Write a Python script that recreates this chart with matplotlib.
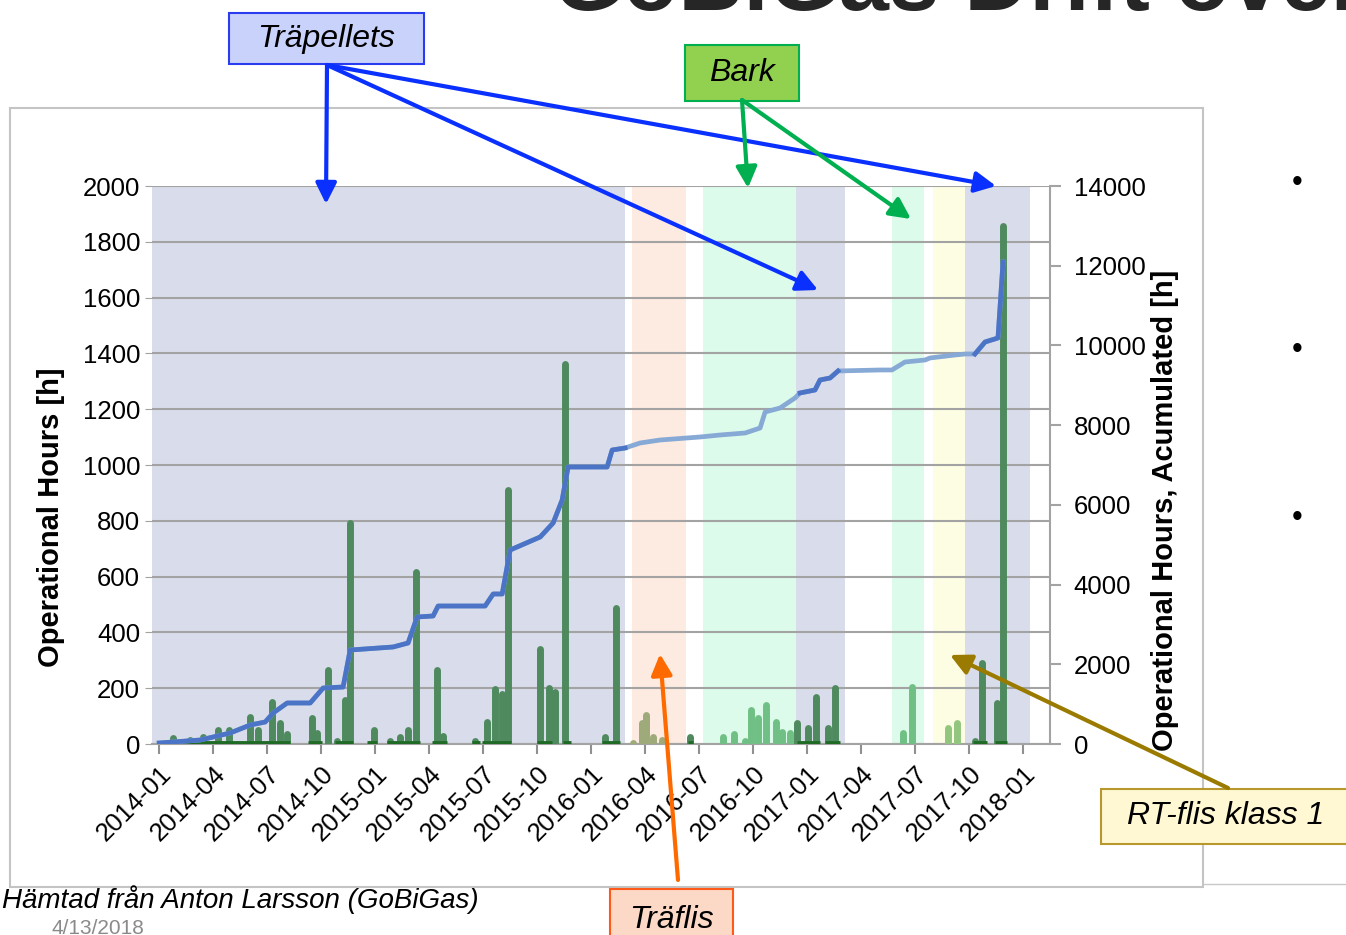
import numpy as np
import matplotlib
matplotlib.use("Agg")
from matplotlib import pyplot as plt
from matplotlib.patches import Rectangle

plt.rcParams['font.family'] = ['Liberation Sans', 'DejaVu Sans']

# months counted from 2014-01
tick_labels = ["2014-01", "2014-04", "2014-07", "2014-10", "2015-01", "2015-04", "2015-07",
               "2015-10", "2016-01", "2016-04", "2016-07", "2016-10", "2017-01", "2017-04",
               "2017-07", "2017-10", "2018-01"]

# fuel periods (start month, end month, fuel)
periods = [(-0.4, 25.9, "pellets"), (26.3, 29.3, "traflis"), (30.2, 35.4, "bark"),
           (35.4, 38.1, "pellets"), (40.7, 42.5, "bark"), (43.0, 44.8, "rt"),
           (44.8, 48.4, "pellets")]

# operational hours per period bar
bar_month = [0.78, 1.72, 2.44, 3.28, 3.89, 5.06, 5.5, 6.28, 6.72, 7.11, 8.5, 8.78, 9.39, 9.89,
             10.33, 10.61, 11.94, 12.83, 13.39, 13.83, 14.28, 15.44, 15.78, 17.56, 18.22, 18.67,
             19.06, 19.39, 21.17, 21.67, 22.0, 22.56, 24.78, 25.39,
             26.33, 26.83, 27.06, 27.44, 27.94,
             29.5,
             31.33, 31.94, 32.56, 32.89, 33.28, 33.72, 34.28, 34.61, 35.06,
             35.44, 36.06, 36.5, 37.17, 37.56,
             41.33, 41.83,
             43.83, 44.33,
             45.33, 45.72, 46.56, 46.89]
bar_hours = [20, 15, 25, 50, 50, 97, 50, 150, 75, 35, 93, 40, 265, 10,
             158, 792, 50, 10, 25, 50, 617, 265, 30, 10, 79, 197,
             180, 910, 340, 200, 187, 1362, 25, 487,
             5, 75, 104, 25, 15,
             25,
             25, 36, 10, 122, 93, 140, 79, 43, 40,
             75, 57, 168, 57, 200,
             40, 204,
             57, 75,
             10, 290, 147, 1856]
bar_fuel = (["pellets"] * 34 + ["traflis"] * 5 + ["pellets"] + ["bark"] * 9 +
            ["pellets"] * 5 + ["bark"] * 2 + ["rt"] * 2 + ["pellets"] * 4)

# running periods shown along the base line
run_start = [0.06, 8.28, 9.78, 11.56, 12.67, 15.17, 17.39, 17.94, 21.0, 22.44, 24.61, 29.39,
             35.44, 37.0, 45.22, 46.44]
run_end = [7.28, 9.06, 10.78, 12.11, 14.5, 16.0, 17.83, 19.56, 21.83, 22.89, 25.61, 29.67,
           36.72, 37.83, 46.0, 47.11]

# accumulated hours
acc_month = [0.0, 2.28, 3.94, 5.06, 5.89, 6.33, 7.11, 8.39, 9.11, 10.22, 10.61, 13.0, 13.83,
             14.33, 15.22, 15.5, 18.11, 18.56, 19.06, 19.5, 21.17, 21.89, 22.39, 22.72, 24.89,
             25.17, 25.89, 26.72, 27.83, 30.06, 31.17, 32.56, 33.39, 33.67, 34.5, 35.33, 35.61,
             36.44, 36.72, 37.28, 37.72, 40.06, 40.72, 41.44, 42.56, 42.83, 44.22, 44.78, 45.33,
             45.89, 46.61, 46.89]
acc_hours = [25, 100, 276, 477, 552, 778, 1029, 1029, 1405, 1430, 2358, 2434, 2534,
             3186, 3212, 3462, 3462, 3764, 3764, 4867, 5194, 5545, 6122, 6950, 6950,
             7376, 7427, 7552, 7627, 7703, 7753, 7803, 7928, 8330, 8430, 8681, 8807,
             8882, 9133, 9183, 9359, 9384, 9384, 9584, 9635, 9685, 9760, 9785, 9785,
             10086, 10187, 12093]

span_colors = {"pellets": "#d9dcea", "traflis": "#fdeae0", "bark": "#dcfbea", "rt": "#fdfde3"}
bar_colors = {"pellets": "#4f8a5f", "traflis": "#9eaa7a", "bark": "#70c085", "rt": "#92c67e"}

W, H = 1346, 935
fig = plt.figure(figsize=(W / 100, H / 100), dpi=100)


def fx(x):
    return x / W


def fy(y):
    return 1 - y / H


# chart frame
fig.add_artist(Rectangle((fx(10), fy(887)), fx(1193), 779 / H, transform=fig.transFigure,
                         fill=False, ec="#c4c4c4", lw=1.5))
fig.add_artist(plt.Line2D([fx(1203), 1], [fy(884), fy(884)], transform=fig.transFigure,
                          color="#c8c8c8", lw=1))

ax = fig.add_axes([fx(152), fy(744), fx(1050 - 152), (744 - 186) / H])
ax2 = ax.twinx()

for s, e, f in periods:
    ax.axvspan(s, e, color=span_colors[f], lw=0, zorder=0)

ax.set_xlim(-0.4, 49.5)
ax.set_ylim(0, 2000)
ax.set_yticks(np.arange(0, 2001, 200))
ax.grid(axis="y", color="#a3a3a3", lw=1.5, zorder=1)
ax.set_axisbelow(True)

cols = [bar_colors[f] for f in bar_fuel]
bars = ax.vlines(bar_month, 0, bar_hours, colors=cols, lw=5, zorder=3)
bars.set_capstyle("round")
ax.hlines([4] * len(run_start), run_start, run_end, colors="#1f6b25", lw=3.5, zorder=4)

ax.set_xticks(np.arange(0, 49, 3))
ax.set_xticklabels(tick_labels, rotation=45, ha="right", rotation_mode="anchor", fontsize=18.5)
ax.tick_params(axis="x", colors="#909090", labelcolor="black", length=7, width=1.5, pad=6)
ax.tick_params(axis="y", colors="#a3a3a3", labelcolor="black", length=5, labelsize=18.5)
for sp in ["top", "left", "right"]:
    ax.spines[sp].set_visible(False)
ax.spines["bottom"].set_color("#a3a3a3")
ax.spines["bottom"].set_linewidth(1.5)
ax.set_ylabel("Operational Hours [h]", fontsize=21, fontweight="bold")
ax.yaxis.set_label_coords(-0.097, 0.407)

# accumulated line, darker during pellets
acc_m = np.array(acc_month)
acc_h = np.array(acc_hours, dtype=float)
pel = np.zeros(len(acc_m), dtype=bool)
for s, e, f in periods:
    if f == "pellets":
        pel |= (acc_m >= s) & (acc_m <= e)
ax2.plot(acc_m, acc_h, color="#86a9d6", lw=3.4, zorder=5)
ax2.plot(acc_m, np.where(pel, acc_h, np.nan), color="#4c74c6", lw=3.4, zorder=6)
ax2.set_ylim(0, 14000)
ax2.set_yticks(np.arange(0, 14001, 2000))
ax2.tick_params(axis="y", colors="#a3a3a3", labelcolor="black", length=8, width=1.5,
                labelsize=18.5, pad=9)
for sp in ["top", "left", "bottom"]:
    ax2.spines[sp].set_visible(False)
ax2.spines["right"].set_color("#a3a3a3")
ax2.spines["right"].set_linewidth(1.5)
ax2.set_ylabel("Operational Hours, Acumulated [h]", fontsize=21, fontweight="bold")
ax2.yaxis.set_label_coords(1.112, 0.418)


def label_box(x0, y0, x1, y1, text, fc, ec):
    fig.add_artist(Rectangle((fx(x0), fy(y1)), fx(x1 - x0), (y1 - y0) / H,
                             transform=fig.transFigure, fc=fc, ec=ec, lw=1.5, zorder=10))
    fig.text(fx((x0 + x1) / 2), fy((y0 + y1) / 2), text, ha="center", va="center",
             fontsize=23, style="italic", zorder=11)


def arrow(x0, y0, x1, y1, color):
    fig.add_artist(matplotlib.patches.FancyArrowPatch(
        (fx(x0), fy(y0)), (fx(x1), fy(y1)), transform=fig.transFigure,
        arrowstyle="-|>,head_length=0.9,head_width=0.45", mutation_scale=14,
        color=color, lw=3, zorder=12, shrinkA=0, shrinkB=0))


label_box(229, 13, 424, 64, "Träpellets", "#c9d2fb", "#2a3cf0")
for hx, hy in [(326, 204), (818, 290), (996, 186)]:
    arrow(327, 65, hx, hy, "#0a30ff")

label_box(685, 45, 799, 101, "Bark", "#92d050", "#00b050")
for hx, hy in [(748, 188), (911, 219)]:
    arrow(742, 100, hx, hy, "#00b050")

label_box(610, 889, 733, 950, "Träflis", "#fcd9c6", "#ff5a1a")
arrow(678, 880, 660, 654, "#ff6a00")

label_box(1101, 789, 1350, 844, "RT-flis klass 1", "#fff8d2", "#b8982c")
arrow(1228, 788, 950, 655, "#9a7b00")

fig.text(fx(553), fy(10), "GoBiGas Drift över", fontsize=65, fontweight="bold",
         color="#262626", ha="left", va="baseline")
for by in [183, 350, 518]:
    fig.text(fx(1297), fy(by), "•", fontsize=22, ha="center", va="center")

fig.text(fx(2), fy(900), "Hämtad från Anton Larsson (GoBiGas)", fontsize=20,
         style="italic", ha="left", va="center")
fig.text(fx(52), fy(929), "4/13/2018", fontsize=15, color="#8a8a8a", ha="left", va="center")

fig.savefig("out.png", dpi=100)
